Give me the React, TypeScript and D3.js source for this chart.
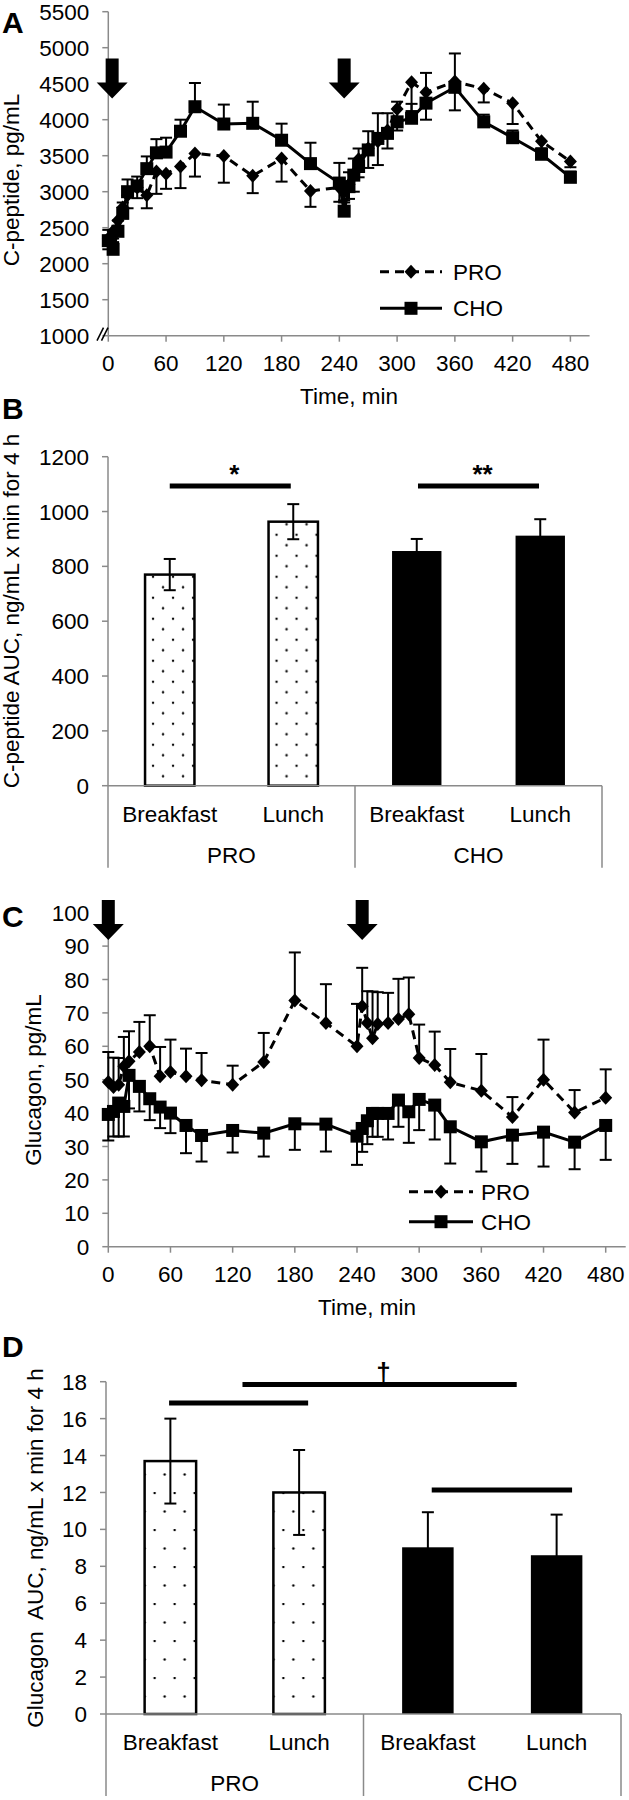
import React from 'react'
import * as d3 from 'd3'

const FONT = '"Liberation Sans", Arial, Helvetica, sans-serif'
const FS = 22.5
const AXIS = '#8a8a8a'
const INK = '#000'

// sampling times, min
const times = [0, 5, 10, 15, 20, 30, 40, 50, 60, 75, 90, 120, 150, 180, 210, 240, 245, 250, 255, 260, 270, 280, 290, 300, 315, 330, 360, 390, 420, 450, 480]
const timeTicks = [0, 60, 120, 180, 240, 300, 360, 420, 480]

// A: C-peptide, pg/mL
const cpepPRO = [2350, 2450, 2600, 2780, 2950, 3060, 2950, 3280, 3250, 3350, 3530, 3495, 3220, 3460, 3010, 3060, 3000, 3100, 3250, 3450, 3600, 3700, 3850, 4150, 4520, 4380, 4530, 4430, 4230, 3700, 3420]
const cpepPROse = [150, 150, 150, 150, 180, 150, 180, 310, 210, 300, 320, 370, 240, 320, 220, 200, 150, 200, 250, 250, 270, 330, 250, 300, 400, 380, 400, 190, 290, 100, 80]
const cpepCHO = [2320, 2200, 2450, 2700, 3000, 3080, 3320, 3540, 3550, 3840, 4180, 3940, 3950, 3715, 3390, 3120, 2730, 3070, 3230, 3350, 3580, 3740, 3810, 3970, 4020, 4230, 4450, 3970, 3750, 3520, 3200]
const cpepCHOse = [150, 150, 150, 150, 170, 130, 170, 190, 200, 160, 330, 270, 300, 230, 290, 280, 150, 200, 230, 250, 260, 350, 280, 280, 200, 420, 470, 100, 100, 80, 80]
const cpepTicks = [1000, 1500, 2000, 2500, 3000, 3500, 4000, 4500, 5000, 5500]

// C: glucagon, pg/mL
const glucPRO = [49.3, 47.8, 48.5, 54, 55.5, 58.3, 60, 51, 52.3, 51, 49.8, 48.5, 55.3, 73.7, 67, 60, 72, 67, 62.4, 66.7, 67, 68.2, 69.6, 56.5, 54.4, 49.2, 46.7, 38.8, 50, 40.2, 44.6]
const glucPROse = [9, 8.8, 8, 8.8, 9, 9, 9.3, 8.8, 9.7, 8.3, 8.2, 5.7, 8.7, 14.4, 11.6, 12.7, 11.5, 9.5, 14, 9.5, 9, 12, 11, 10, 10, 10, 11, 6, 12, 6.7, 8.5]
const glucCHO = [39.6, 40.5, 43, 42, 51.3, 48, 44.3, 41.8, 40, 36.3, 33.3, 34.8, 34, 36.8, 36.7, 33.1, 35.4, 37.7, 39.9, 39.9, 39.9, 43.9, 40.4, 44.1, 42.4, 35.9, 31.4, 33.4, 34.3, 31.3, 36.3]
const glucCHOse = [7.8, 7.5, 10, 9, 9.9, 7.5, 6.4, 6.3, 6, 8.3, 7.8, 6.6, 7, 7.8, 8.2, 8.6, 7, 7, 7, 7, 7.8, 8, 9.3, 9.2, 10.3, 11, 8.9, 8.6, 10.3, 8.1, 10.3]
const glucTicks = [0, 10, 20, 30, 40, 50, 60, 70, 80, 90, 100]

// meal arrows, min
const mealArrowsA = [4, 245]
const mealArrowsC = [0, 245]

// B and D: AUC for 4 h
const groups = ['PRO', 'CHO']
const meals = ['Breakfast', 'Lunch']
const cpepAUC = [770, 963, 856, 912]
const cpepAUCse = [57, 64, 44, 60]
const cpepAUCTicks = [0, 200, 400, 600, 800, 1000, 1200]
const glucAUC = [13.7, 12.0, 9.03, 8.6]
const glucAUCse = [2.3, 2.3, 1.9, 2.2]
const glucAUCTicks = [0, 2, 4, 6, 8, 10, 12, 14, 16, 18]

// significance bars: from/to in bar-slot units (bar i centred at i + 0.5)
const sigB = [
  { from: 0.5, to: 1.48, y: 1093, mark: '*' },
  { from: 2.51, to: 3.49, y: 1093, mark: '**' },
]
const sigD = [
  { from: 0.49, to: 1.57, y: 16.85, mark: '' },
  { from: 1.06, to: 3.19, y: 17.85, mark: '†' },
  { from: 2.53, to: 3.62, y: 12.13, mark: '' },
]

const diamond = (cx: number, cy: number, w = 13, h = 14) =>
  `M${cx},${cy - h / 2}L${cx + w / 2},${cy}L${cx},${cy + h / 2}L${cx - w / 2},${cy}Z`

const arrow = (cx: number, top: number) => {
  const s = 6.5, hw = 15.5, len = 40, hl = 16
  return `M${cx - s},${top}L${cx + s},${top}L${cx + s},${top + len - hl}L${cx + hw},${top + len - hl}L${cx},${top + len}L${cx - hw},${top + len - hl}L${cx - s},${top + len - hl}Z`
}

const PanelLabel = ({ text, y }: any) => (
  <text x={2} y={y} fontSize={30} fontWeight="bold" fontFamily={FONT} fill={INK}>{text}</text>
)

const YTitle = ({ text, x, y }: any) => (
  <text transform={`translate(${x},${y}) rotate(-90)`} textAnchor="middle" fontSize={FS} fontFamily={FONT} fill={INK} style={{ whiteSpace: 'pre' }}>
    {text}
  </text>
)

const LinePanel = (p: any) => {
  const x = d3.scaleLinear().domain([0, 480]).range([p.left, p.right])
  const y = d3.scaleLinear().domain(p.yDomain).range([p.bottom, p.top])
  const line = d3.line<number>().x((_, i) => x(times[i])).y(v => y(v))

  const errs = (vals: number[], se: number[], dir: number) =>
    vals.map((v, i) => {
      const cx = x(times[i])
      const ye = y(v + dir * se[i])
      return (
        <g key={i} stroke={INK} strokeWidth={2}>
          <line x1={cx} x2={cx} y1={y(v)} y2={ye} />
          <line x1={cx - 6} x2={cx + 6} y1={ye} y2={ye} />
        </g>
      )
    })

  const lg = p.legend
  const lgMid = (lg.x0 + lg.x1) / 2
  return (
    <g fontFamily={FONT} fill={INK}>
      <PanelLabel text={p.label} y={p.labelY} />
      <YTitle text={p.title} x={p.titleX} y={p.titleY} />

      {/* axes */}
      <line x1={p.left} x2={p.left} y1={y(p.yDomain[1])} y2={p.bottom} stroke={AXIS} strokeWidth={1.5} />
      {p.yTicks.map((t: number) => (
        <g key={t}>
          <line x1={p.left - 6} x2={p.left} y1={y(t)} y2={y(t)} stroke={AXIS} strokeWidth={1.5} />
          <text x={p.left - 19} y={y(t)} dy="0.36em" textAnchor="end" fontSize={FS}>{t}</text>
        </g>
      ))}
      <line x1={p.left} x2={p.axisEnd} y1={p.bottom} y2={p.bottom} stroke={AXIS} strokeWidth={1.5} />
      {timeTicks.map(t => (
        <g key={t}>
          <line x1={x(t)} x2={x(t)} y1={p.bottom} y2={p.bottom + 6} stroke={AXIS} strokeWidth={1.5} />
          <text x={x(t)} y={p.bottom + 27} dy="0.36em" textAnchor="middle" fontSize={FS}>{t}</text>
        </g>
      ))}
      <text x={(p.left + p.axisEnd) / 2} y={p.bottom + 68} textAnchor="middle" fontSize={FS}>Time, min</text>
      {p.axisBreak && (
        <g stroke={INK} strokeWidth={1.5}>
          <line x1={97} y1={p.bottom + 5} x2={103.5} y2={p.bottom - 8} />
          <line x1={101.5} y1={p.bottom + 5} x2={108} y2={p.bottom - 8} />
        </g>
      )}

      {/* meal arrows */}
      {p.arrows.map((t: number) => (
        <path key={t} d={arrow(x(t), y(p.arrowTop))} fill={INK} />
      ))}

      {/* PRO */}
      {errs(p.pro, p.proSe, p.proDir)}
      <path d={line(p.pro) as string} fill="none" stroke={INK} strokeWidth={3} strokeDasharray="9,6" />
      {p.pro.map((v: number, i: number) => (
        <path key={i} d={diamond(x(times[i]), y(v))} fill={INK} />
      ))}

      {/* CHO */}
      {errs(p.cho, p.choSe, p.choDir)}
      <path d={line(p.cho) as string} fill="none" stroke={INK} strokeWidth={3} />
      {p.cho.map((v: number, i: number) => (
        <rect key={i} x={x(times[i]) - 6.5} y={y(v) - 6.5} width={13} height={13} fill={INK} />
      ))}

      {/* legend */}
      <line x1={lg.x0} x2={lg.x1} y1={lg.y} y2={lg.y} stroke={INK} strokeWidth={3} strokeDasharray="9,6" />
      <path d={diamond(lgMid, lg.y)} fill={INK} />
      <text x={lg.tx} y={lg.y} dy="0.36em" fontSize={FS}>PRO</text>
      <line x1={lg.x0} x2={lg.x1} y1={lg.y + lg.gap} y2={lg.y + lg.gap} stroke={INK} strokeWidth={3} />
      <rect x={lgMid - 6.5} y={lg.y + lg.gap - 6.5} width={13} height={13} fill={INK} />
      <text x={lg.tx} y={lg.y + lg.gap} dy="0.36em" fontSize={FS}>CHO</text>
    </g>
  )
}

const BarPanel = (p: any) => {
  const outer = d3.scaleBand().domain(groups).range([p.left, p.right])
  const inner = d3.scaleBand().domain(meals).range([0, outer.bandwidth()]).paddingInner(0.6).paddingOuter(0.3)
  const slot = d3.scaleLinear().domain([0, 4]).range([p.left, p.right])
  const y = d3.scaleLinear().domain(p.yDomain).range([p.bottom, p.top])
  const bw = inner.bandwidth()

  const bars = groups.flatMap((g, gi) =>
    meals.map((m, mi) => {
      const k = gi * 2 + mi
      const bx = (outer(g) as number) + (inner(m) as number)
      return { g, m, k, bx, v: p.values[k], se: p.se[k] }
    }),
  )

  return (
    <g fontFamily={FONT} fill={INK}>
      <defs>
        {bars.filter(b => b.g === 'PRO').map(b => (
          <pattern key={b.k} id={`${p.id}-dots-${b.k}`} patternUnits="userSpaceOnUse" x={b.bx + p.dotOffset} y={p.bottom} width={20} height={p.rowStep * 2}>
            <rect width={20} height={p.rowStep * 2} fill="#fff" />
            <circle cx={0} cy={1} r={1.2} fill={INK} />
            <circle cx={20} cy={1} r={1.2} fill={INK} />
            <circle cx={10} cy={1 + p.rowStep} r={1.2} fill={INK} />
          </pattern>
        ))}
      </defs>
      <PanelLabel text={p.label} y={p.labelY} />
      <YTitle text={p.title} x={p.titleX} y={p.titleY} />

      {/* y axis */}
      <line x1={p.left} x2={p.left} y1={p.top} y2={p.bottom + 82} stroke={AXIS} strokeWidth={1.5} />
      {p.yTicks.map((t: number) => (
        <g key={t}>
          <line x1={p.left - 6} x2={p.left} y1={y(t)} y2={y(t)} stroke={AXIS} strokeWidth={1.5} />
          <text x={p.left - 19} y={y(t)} dy="0.36em" textAnchor="end" fontSize={FS}>{t}</text>
        </g>
      ))}

      {/* bars */}
      {bars.map(b => (
        <rect
          key={b.k}
          x={b.bx}
          y={y(b.v)}
          width={bw}
          height={p.bottom - y(b.v)}
          fill={b.g === 'PRO' ? `url(#${p.id}-dots-${b.k})` : INK}
          stroke={INK}
          strokeWidth={b.g === 'PRO' ? 2.5 : 0}
        />
      ))}
      {bars.map(b => {
        const cx = b.bx + bw / 2
        return (
          <g key={b.k} stroke={INK} strokeWidth={2}>
            <line x1={cx} x2={cx} y1={y(b.v - b.se)} y2={y(b.v + b.se)} />
            <line x1={cx - 6} x2={cx + 6} y1={y(b.v + b.se)} y2={y(b.v + b.se)} />
            <line x1={cx - 6} x2={cx + 6} y1={y(b.v - b.se)} y2={y(b.v - b.se)} />
          </g>
        )
      })}

      {/* category axis */}
      <line x1={p.left} x2={p.right} y1={p.bottom} y2={p.bottom} stroke={AXIS} strokeWidth={1.5} />
      {[outer('CHO') as number, p.right].map((vx, i) => (
        <line key={i} x1={vx} x2={vx} y1={p.bottom} y2={p.bottom + 82} stroke={AXIS} strokeWidth={1.5} />
      ))}
      {bars.map(b => (
        <text key={b.k} x={b.bx + bw / 2} y={p.bottom + 28} dy="0.36em" textAnchor="middle" fontSize={FS}>{b.m}</text>
      ))}
      {groups.map(g => (
        <text key={g} x={(outer(g) as number) + outer.bandwidth() / 2} y={p.bottom + 69} dy="0.36em" textAnchor="middle" fontSize={FS}>{g}</text>
      ))}

      {/* significance */}
      {p.sig.map((s: any, i: number) => (
        <g key={i}>
          <line x1={slot(s.from)} x2={slot(s.to)} y1={y(s.y)} y2={y(s.y)} stroke={INK} strokeWidth={5} />
          {s.mark && (
            <text x={(slot(s.from) + slot(s.to)) / 2 + 4} y={y(s.y) - 3} textAnchor="middle" fontSize={26} fontWeight="bold" fill={INK}>{s.mark}</text>
          )}
        </g>
      ))}
    </g>
  )
}

const App: React.FC = () => {
  return (
    <div style={{ position: 'absolute', left: 0, top: 0 }}>
      <svg width={629} height={1800} style={{ display: 'block', background: '#fff' }}>
        <LinePanel
          label="A" labelY={33}
          title="C-peptide, pg/mL" titleX={18.5} titleY={180}
          left={108.3} right={570.4} axisEnd={589.6} top={11.7} bottom={335.7}
          yDomain={[1000, 5500]} yTicks={cpepTicks}
          pro={cpepPRO} proSe={cpepPROse} proDir={-1}
          cho={cpepCHO} choSe={cpepCHOse} choDir={1}
          arrows={mealArrowsA} arrowTop={4850}
          legend={{ x0: 380, x1: 442, y: 271.7, gap: 36.6, tx: 453 }}
          axisBreak
        />
        <BarPanel
          id="b" label="B" labelY={419}
          title="C-peptide AUC, ng/mL x min for 4 h" titleX={18.5} titleY={611}
          left={108} right={602} top={456.7} bottom={785.7}
          yDomain={[0, 1200]} yTicks={cpepAUCTicks}
          values={cpepAUC} se={cpepAUCse} sig={sigB}
          rowStep={10.5} dotOffset={8}
        />
        <LinePanel
          label="C" labelY={927}
          title="Glucagon, pg/mL" titleX={40.5} titleY={1080}
          left={108.3} right={605.7} axisEnd={625.7} top={912.7} bottom={1246.7}
          yDomain={[0, 100]} yTicks={glucTicks}
          pro={glucPRO} proSe={glucPROse} proDir={1}
          cho={glucCHO} choSe={glucCHOse} choDir={-1}
          arrows={mealArrowsC} arrowTop={103.8}
          legend={{ x0: 409, x1: 473, y: 1191.7, gap: 30, tx: 481 }}
        />
        <BarPanel
          id="d" label="D" labelY={1357}
          title="Glucagon  AUC, ng/mL x min for 4 h" titleX={42.5} titleY={1548}
          left={106} right={621} top={1381.7} bottom={1714}
          yDomain={[0, 18]} yTicks={glucAUCTicks}
          values={glucAUC} se={glucAUCse} sig={sigD}
          rowStep={18.5} dotOffset={10}
        />
      </svg>
    </div>
  )
}

export default App
